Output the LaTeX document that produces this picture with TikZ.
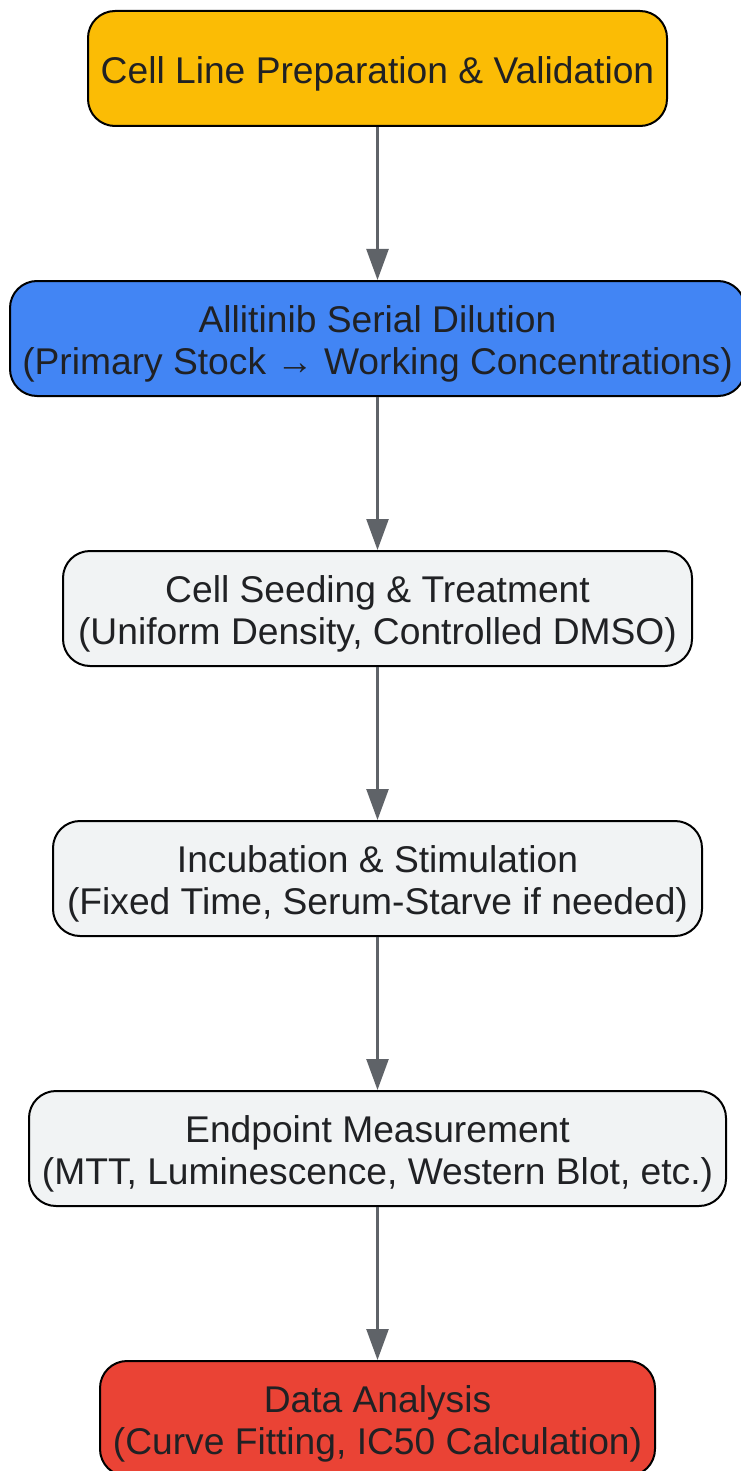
\documentclass[tikz,border=0pt]{standalone}
\usepackage{fontspec}
\setmainfont{Liberation Sans}
\usetikzlibrary{arrows.meta}
\definecolor{prepyellow}{HTML}{FBBC05}
\definecolor{dilblue}{HTML}{4285F4}
\definecolor{steplight}{HTML}{F1F3F4}
\definecolor{resultred}{HTML}{EA4335}
\definecolor{flowgray}{HTML}{5F6368}
\definecolor{textdark}{HTML}{202124}
\newcommand{\lift}{\rule{0pt}{37pt}}
\tikzstyle{stage} = [rectangle, rounded corners=27pt, draw=black, line width=2pt, minimum height=115pt, inner sep=0pt, align=center, text=textdark, font=\fontsize{37.2}{42}\selectfont]
\tikzstyle{flow} = [draw=flowgray, line width=2.5pt, -{Triangle[length=31pt,width=22pt]}]

\begin{document}
\begin{tikzpicture}
    \useasboundingbox (0,0) rectangle (740pt,-1471pt);
    \node[stage, fill=prepyellow, minimum width=579pt] (prep) at (377.5pt,-68.5pt) {\lift Cell Line Preparation \& Validation};
    \node[stage, fill=dilblue, minimum width=735pt] (dilution) at (377.5pt,-338.5pt) {\lift Allitinib Serial Dilution\\(Primary Stock → Working Concentrations)};
    \node[stage, fill=steplight, minimum width=629pt] (seeding) at (377.5pt,-608.5pt) {\lift Cell Seeding \& Treatment\\(Uniform Density, Controlled DMSO)};
    \node[stage, fill=steplight, minimum width=649pt] (incub) at (377.5pt,-878.5pt) {\lift Incubation \& Stimulation\\(Fixed Time, Serum-Starve if needed)};
    \node[stage, fill=steplight, minimum width=697pt] (endpoint) at (377.5pt,-1148.5pt) {\lift Endpoint Measurement\\(MTT, Luminescence, Western Blot, etc.)};
    \node[stage, fill=resultred, minimum width=555pt] (analysis) at (377.5pt,-1418.5pt) {\lift Data Analysis\\(Curve Fitting, IC50 Calculation)};

    \draw[flow] (prep) -- (dilution);
    \draw[flow] (dilution) -- (seeding);
    \draw[flow] (seeding) -- (incub);
    \draw[flow] (incub) -- (endpoint);
    \draw[flow] (endpoint) -- (analysis);
\end{tikzpicture}
\end{document}
